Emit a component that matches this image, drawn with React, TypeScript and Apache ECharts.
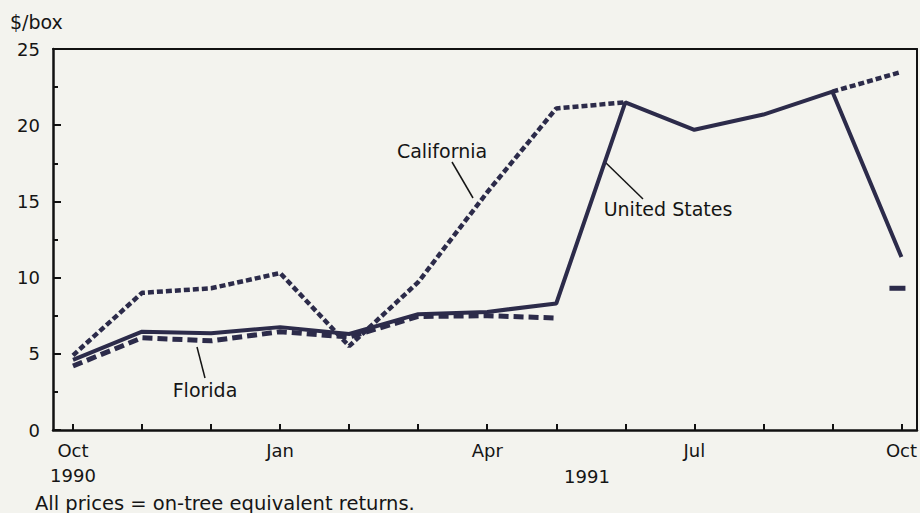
import React, { useEffect, useRef } from "react";
import * as echarts from "echarts";

const months = ["Oct", "Nov", "Dec", "Jan", "Feb", "Mar", "Apr", "May", "Jun", "Jul", "Aug", "Sep", "Oct"];
const tickLabels: Record<number, string> = { 0: "Oct\n1990", 3: "Jan", 6: "Apr", 9: "Jul", 12: "Oct" };
const unitedStates = [4.6, 6.45, 6.35, 6.75, 6.3, 7.6, 7.75, 8.3, 21.5, 19.7, 20.7, 22.2, 11.35];
const california = [4.9, 9.0, 9.3, 10.3, 5.5, 9.7, 15.6, 21.1, 21.5, null, null, 22.2, 23.5];
const florida = [4.2, 6.05, 5.85, 6.45, 6.1, 7.45, 7.5, 7.35, null, null, null, null, null];
const floridaOct91 = 9.3;

const INK = "#2c2b4a";
const TXT = "#151515";
const FONT = "DejaVu Sans";
const AX = "#111";

export default function App() {
  const ref = useRef<HTMLDivElement>(null);
  useEffect(() => {
    document.body.style.margin = "0";
    const chart = echarts.init(ref.current!, null, { renderer: "svg" });
    const hiddenAxisBits = {
      axisTick: { show: false },
      axisLabel: { show: false },
      splitLine: { show: false },
    };
    chart.setOption({
      animation: false,
      backgroundColor: "#f3f3ee",
      grid: [
        { left: 53, right: 3, top: 49, bottom: 83 },
        { left: 73, right: 18, top: 49, bottom: 83 },
      ],
      xAxis: [
        {
          gridIndex: 0, type: "value", min: 0, max: 1, position: "bottom",
          axisLine: { show: true, onZero: false, lineStyle: { color: AX, width: 2.5 } },
          ...hiddenAxisBits,
        },
        {
          gridIndex: 0, type: "value", min: 0, max: 1, position: "top",
          axisLine: { show: true, onZero: false, lineStyle: { color: AX, width: 2 } },
          ...hiddenAxisBits,
        },
        {
          gridIndex: 1,
          type: "category",
          data: months,
          boundaryGap: false,
          position: "bottom",
          axisLine: { show: false },
          splitLine: { show: false },
          axisTick: { show: true, inside: true, length: 6, interval: 0, lineStyle: { color: AX, width: 2 } },
          axisLabel: {
            interval: 0,
            formatter: (_v: string, i: number) => tickLabels[i] ?? "",
            color: TXT,
            fontFamily: FONT,
            fontSize: 18,
            lineHeight: 25,
            margin: 8,
            align: "center",
            verticalAlign: "top",
          },
        },
      ],
      yAxis: [
        {
          gridIndex: 0,
          type: "value",
          min: 0,
          max: 25,
          interval: 5,
          position: "left",
          splitLine: { show: false },
          axisLine: { show: true, onZero: false, lineStyle: { color: AX, width: 2.5 } },
          axisTick: { show: true, inside: true, length: 8, lineStyle: { color: AX, width: 2 } },
          minorTick: { show: true, splitNumber: 2, length: 5, lineStyle: { color: AX, width: 2 } },
          axisLabel: { color: TXT, fontFamily: FONT, fontSize: 18, margin: 13 },
        },
        {
          gridIndex: 0, type: "value", min: 0, max: 25, position: "right",
          axisLine: { show: true, onZero: false, lineStyle: { color: AX, width: 2 } },
          ...hiddenAxisBits,
        },
        {
          gridIndex: 1, type: "value", min: 0, max: 25, show: false,
        },
      ],
      series: [
        {
          name: "Florida",
          type: "line",
          xAxisIndex: 2,
          yAxisIndex: 2,
          data: florida,
          showSymbol: false,
          lineStyle: { color: INK, width: 5, type: [10, 5] },
          z: 2,
        },
        {
          name: "Florida Oct 1991",
          type: "scatter",
          xAxisIndex: 2,
          yAxisIndex: 2,
          data: [[12, floridaOct91]],
          symbol: "rect",
          symbolSize: [16, 5],
          symbolOffset: [-4, 0],
          itemStyle: { color: INK, opacity: 1 },
          z: 2,
        },
        {
          name: "California",
          type: "line",
          xAxisIndex: 2,
          yAxisIndex: 2,
          data: california,
          showSymbol: false,
          lineStyle: { color: INK, width: 4.5, type: [6, 3] },
          z: 3,
        },
        {
          name: "United States",
          type: "line",
          xAxisIndex: 2,
          yAxisIndex: 2,
          data: unitedStates,
          showSymbol: false,
          lineStyle: { color: INK, width: 4 },
          z: 4,
        },
      ],
      graphic: [
        { type: "text", left: 10, top: 12, style: { text: "$/box", fill: TXT, font: `19px ${FONT}` } },
        { type: "text", x: 587, y: 476, style: { text: "1991", fill: TXT, font: `18px ${FONT}`, align: "center", verticalAlign: "middle" } },
        { type: "text", x: 35, y: 503, style: { text: "All prices = on-tree equivalent returns.", fill: TXT, font: `19.5px ${FONT}`, verticalAlign: "middle" } },
        { type: "text", x: 442, y: 151, style: { text: "California", fill: TXT, font: `19px ${FONT}`, align: "center", verticalAlign: "middle" } },
        { type: "line", shape: { x1: 452, y1: 162, x2: 473, y2: 198 }, style: { stroke: TXT, lineWidth: 1.5 } },
        { type: "text", x: 668, y: 209, style: { text: "United States", fill: TXT, font: `19px ${FONT}`, align: "center", verticalAlign: "middle" } },
        { type: "line", shape: { x1: 605, y1: 162, x2: 643, y2: 199 }, style: { stroke: TXT, lineWidth: 1.5 } },
        { type: "text", x: 205, y: 390, style: { text: "Florida", fill: TXT, font: `19px ${FONT}`, align: "center", verticalAlign: "middle" } },
        { type: "line", shape: { x1: 197, y1: 347, x2: 205, y2: 378 }, style: { stroke: TXT, lineWidth: 1.5 } },
      ],
    });
    return () => chart.dispose();
  }, []);
  return <div ref={ref} style={{ width: 920, height: 513 }} />;
}
